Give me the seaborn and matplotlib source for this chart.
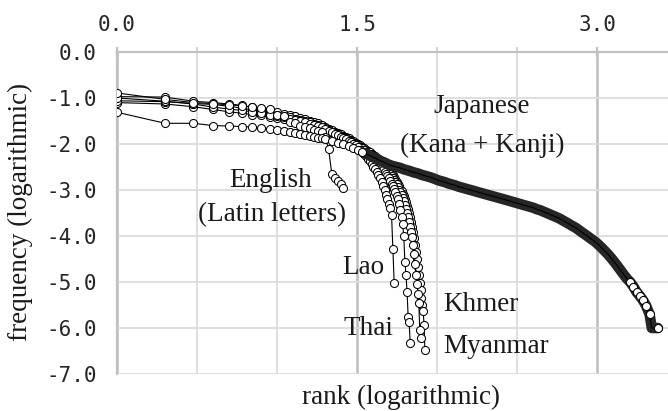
import numpy as np
import pandas as pd
import matplotlib
matplotlib.use("Agg")
import matplotlib.pyplot as plt
import seaborn as sns
from matplotlib.ticker import FixedLocator

# ---- data: log10(relative frequency) by rank ----
english = [-0.89, -1.03, -1.10, -1.12, -1.15, -1.17, -1.20, -1.22, -1.23, -1.37,
           -1.40, -1.53, -1.55, -1.60, -1.62, -1.66, -1.70, -1.71, -1.73, -1.85,
           -2.10, -2.65, -2.74, -2.80, -2.88, -2.96]

lao = [-1.00, -1.07, -1.13, -1.20, -1.24, -1.27, -1.30, -1.33, -1.36, -1.40,
       -1.42, -1.45, -1.48, -1.50, -1.53, -1.56, -1.58, -1.61, -1.64, -1.68,
       -1.72, -1.75, -1.78, -1.81, -1.84, -1.87, -1.90, -1.93, -1.96, -1.99,
       -2.03, -2.07, -2.12, -2.17, -2.22, -2.27, -2.32, -2.37, -2.43, -2.49,
       -2.55, -2.61, -2.68, -2.75, -2.83, -2.92, -3.01, -3.10, -3.20, -3.30,
       -3.40, -3.54, -4.29, -5.02]

thai = [-1.06, -1.08, -1.12, -1.14, -1.18, -1.22, -1.26, -1.30, -1.33, -1.36,
        -1.39, -1.42, -1.45, -1.47, -1.50, -1.53, -1.56, -1.59, -1.62, -1.66,
        -1.70, -1.73, -1.76, -1.79, -1.82, -1.85, -1.88, -1.91, -1.94, -1.97,
        -2.00, -2.03, -2.06, -2.09, -2.13, -2.17, -2.21, -2.25, -2.29, -2.33,
        -2.37, -2.41, -2.45, -2.49, -2.53, -2.57, -2.61, -2.65, -2.70, -2.75,
        -2.80, -2.86, -2.92, -2.98, -3.05, -3.12, -3.20, -3.30, -3.43, -3.58,
        -3.75, -4.00, -4.56, -4.85, -5.21, -5.75, -5.88, -6.33]

khmer = [-1.10, -1.13, -1.19, -1.25, -1.30, -1.33, -1.36, -1.38, -1.41, -1.43,
         -1.46, -1.48, -1.51, -1.53, -1.56, -1.59, -1.62, -1.65, -1.68, -1.71,
         -1.74, -1.77, -1.80, -1.83, -1.86, -1.89, -1.92, -1.95, -1.98, -2.01,
         -2.04, -2.07, -2.10, -2.13, -2.16, -2.19, -2.22, -2.25, -2.28, -2.31,
         -2.34, -2.37, -2.40, -2.43, -2.46, -2.49, -2.52, -2.55, -2.58, -2.62,
         -2.66, -2.70, -2.74, -2.78, -2.83, -2.88, -2.93, -2.99, -3.05, -3.11,
         -3.18, -3.25, -3.33, -3.41, -3.50, -3.59, -3.69, -3.80, -3.91, -4.03,
         -4.20, -4.40, -4.60, -4.85, -5.05, -5.25, -5.45, -6.04, -6.22]

myanmar = [-0.97, -0.98, -1.07, -1.10, -1.13, -1.16, -1.20, -1.24, -1.28, -1.31,
           -1.34, -1.37, -1.40, -1.43, -1.46, -1.49, -1.52, -1.55, -1.59, -1.63,
           -1.67, -1.70, -1.73, -1.76, -1.79, -1.82, -1.85, -1.88, -1.91, -1.94,
           -1.97, -2.00, -2.03, -2.06, -2.09, -2.12, -2.15, -2.18, -2.21, -2.24,
           -2.27, -2.30, -2.33, -2.36, -2.39, -2.42, -2.45, -2.48, -2.52, -2.56,
           -2.60, -2.64, -2.68, -2.72, -2.77, -2.82, -2.87, -2.92, -2.97, -3.02,
           -3.08, -3.14, -3.20, -3.27, -3.34, -3.42, -3.50, -3.59, -3.69, -3.80,
           -3.92, -4.05, -4.19, -4.34, -4.50, -4.67, -4.85, -5.02, -5.18, -5.34,
           -5.50, -5.64, -5.93, -6.48]

japanese_ranks = [1, 2, 3, 4, 5, 6, 7, 8, 9, 10, 11, 12, 13, 14, 15, 16, 17, 18, 19, 20,
                  22, 24, 26, 28, 30, 32, 34, 36, 38, 40, 42, 44, 46, 48, 50, 53, 56, 59,
                  62, 65, 68, 72, 76, 80, 84, 88, 92, 97, 102, 107, 112, 118, 124, 130,
                  137, 144, 151, 158, 166, 174, 182, 191, 200, 210, 220, 231, 242, 254,
                  266, 279, 292, 306, 320, 335, 351, 368, 385, 403, 422, 442, 463, 485,
                  508, 532, 557, 583, 610, 640, 670, 700, 735, 770, 805, 845, 885, 925,
                  970, 1015, 1065, 1115, 1165, 1220, 1280, 1340, 1400, 1470, 1540, 1610,
                  1690, 1770, 1850, 1940, 2030, 2130, 2200, 2250, 2300, 2350, 2400]
japanese = [-1.31, -1.55, -1.55, -1.60, -1.61, -1.62, -1.63, -1.65, -1.67, -1.70,
            -1.72, -1.74, -1.76, -1.78, -1.80, -1.82, -1.84, -1.86, -1.88, -1.90,
            -1.93, -1.97, -2.00, -2.04, -2.08, -2.12, -2.17, -2.21, -2.25, -2.29,
            -2.32, -2.36, -2.39, -2.42, -2.45, -2.48, -2.50, -2.52, -2.55, -2.57,
            -2.59, -2.62, -2.64, -2.67, -2.69, -2.71, -2.73, -2.76, -2.79, -2.81,
            -2.83, -2.86, -2.88, -2.90, -2.93, -2.95, -2.97, -2.99, -3.01, -3.03,
            -3.05, -3.07, -3.09, -3.11, -3.13, -3.15, -3.17, -3.19, -3.21, -3.23,
            -3.25, -3.27, -3.29, -3.31, -3.33, -3.35, -3.37, -3.39, -3.42, -3.44,
            -3.47, -3.50, -3.53, -3.56, -3.59, -3.62, -3.66, -3.70, -3.74, -3.78,
            -3.82, -3.87, -3.92, -3.97, -4.02, -4.07, -4.12, -4.18, -4.25, -4.32,
            -4.39, -4.47, -4.56, -4.65, -4.74, -4.84, -4.93, -5.00, -5.10, -5.22,
            -5.30, -5.40, -5.52, -5.70, -6.00, -6.00, -6.00, -6.00, -6.00]

x_ticks = [0.0, 1.5, 3.0]
x_minor = [0.5, 1.0, 2.0, 2.5]
y_ticks = [0.0, -1.0, -2.0, -3.0, -4.0, -5.0, -6.0, -7.0]

labels = {
    "English": ["English", "(Latin letters)"],
    "Japanese": ["Japanese", "(Kana + Kanji)"],
}


def frame(name, ranks, vals):
    return pd.DataFrame({"lang": name, "rank": ranks,
                         "x": np.log10(np.asarray(ranks, dtype=float)), "y": vals})


def seq_frame(name, vals):
    return frame(name, list(range(1, len(vals) + 1)), vals)


df_en = seq_frame("English", english)
df_lao = seq_frame("Lao", lao)
df_thai = seq_frame("Thai", thai)
df_khmer = seq_frame("Khmer", khmer)
df_mya = seq_frame("Myanmar", myanmar)
df_jp = frame("Japanese", japanese_ranks, japanese)

sns.set_theme(style="white")
plt.rcParams["font.family"] = ["Liberation Serif", "DejaVu Serif"]

W, H = 668, 411
fig = plt.figure(figsize=(W / 100, H / 100), dpi=100)
ax = fig.add_axes([117 / W, 37 / H, 551 / W, 322 / H])

mk = dict(marker="o", markersize=5.8, markerfacecolor="white",
          markeredgecolor="black", markeredgewidth=0.75, color="black",
          linewidth=0.8, legend=False)

for d in (df_mya, df_khmer, df_thai, df_lao, df_en):
    sns.lineplot(data=d, x="x", y="y", ax=ax, zorder=3, **mk)

# dense Japanese band (overlapping markers appear as a dark band)
band = df_jp[df_jp["rank"] >= 36]
sns.lineplot(data=band, x="x", y="y", ax=ax, color="#262626", linewidth=7.6,
             solid_capstyle="round", solid_joinstyle="round", legend=False, zorder=4)
show = [(r <= 34) or (1610 <= r <= 2130) or (r == 2400) for r in japanese_ranks]
sns.lineplot(data=df_jp, x="x", y="y", ax=ax, zorder=5, markevery=show, **mk)

# axes styling
ax.set_xlim(0, (W - 117) / 160)
ax.set_ylim(-7, 0)
ax.xaxis.tick_top()
ax.xaxis.set_major_locator(FixedLocator(x_ticks))
ax.xaxis.set_minor_locator(FixedLocator(x_minor))
ax.set_xticklabels([f"{v:.1f}" for v in x_ticks])
ax.set_yticks(y_ticks)
ax.set_yticklabels([f"{v:.1f}" for v in y_ticks])

for sp in ("right", "bottom"):
    ax.spines[sp].set_visible(False)
for sp in ("top", "left"):
    ax.spines[sp].set_color("#c0c0c0")
    ax.spines[sp].set_linewidth(1.6)

ax.grid(False)
ax.grid(True, axis="x", which="major", color="#bdbdbd", linewidth=1.8, zorder=0)
ax.grid(True, axis="x", which="minor", color="#dcdcdc", linewidth=1.3, zorder=0)
ax.grid(True, axis="y", which="major", color="#dcdcdc", linewidth=1.3, zorder=0)
ax.set_axisbelow(True)

ax.tick_params(axis="x", which="major", direction="inout", length=7, width=1.6,
               color="#c0c0c0", pad=9, labelsize=15, labelcolor="#262626")
ax.tick_params(axis="x", which="minor", direction="out", length=3.5, width=1.3,
               color="#d0d0d0", top=True, bottom=False)
ax.tick_params(axis="y", which="major", direction="inout", length=11, width=1.6,
               color="#c0c0c0", pad=9, labelsize=15, labelcolor="#262626")
for t in ax.get_xticklabels() + ax.get_yticklabels():
    t.set_fontfamily("DejaVu Sans Mono")

ax.set_xlabel("rank (logarithmic)", fontsize=19.5, color="#1a1a1a")
ax.xaxis.set_label_position("bottom")
ax.xaxis.set_label_coords(0.515, -0.035)
ax.set_ylabel("frequency (logarithmic)", fontsize=19.5, color="#1a1a1a")
ax.yaxis.set_label_coords(-0.152, 0.503)

tk = dict(fontsize=19.5, color="#1a1a1a", va="baseline", zorder=6)
ax.text(0.96, -2.94, labels["English"][0], ha="center", **tk)
ax.text(0.97, -3.67, labels["English"][1], ha="center", **tk)
ax.text(2.28, -1.33, labels["Japanese"][0], ha="center", **tk)
ax.text(2.28, -2.17, labels["Japanese"][1], ha="center", **tk)
ax.text(1.54, -4.83, "Lao", ha="center", **tk)
ax.text(1.57, -6.15, "Thai", ha="center", **tk)
ax.text(2.04, -5.62, "Khmer", ha="left", **tk)
ax.text(2.04, -6.55, "Myanmar", ha="left", **tk)

fig.savefig("out.png", dpi=100)
